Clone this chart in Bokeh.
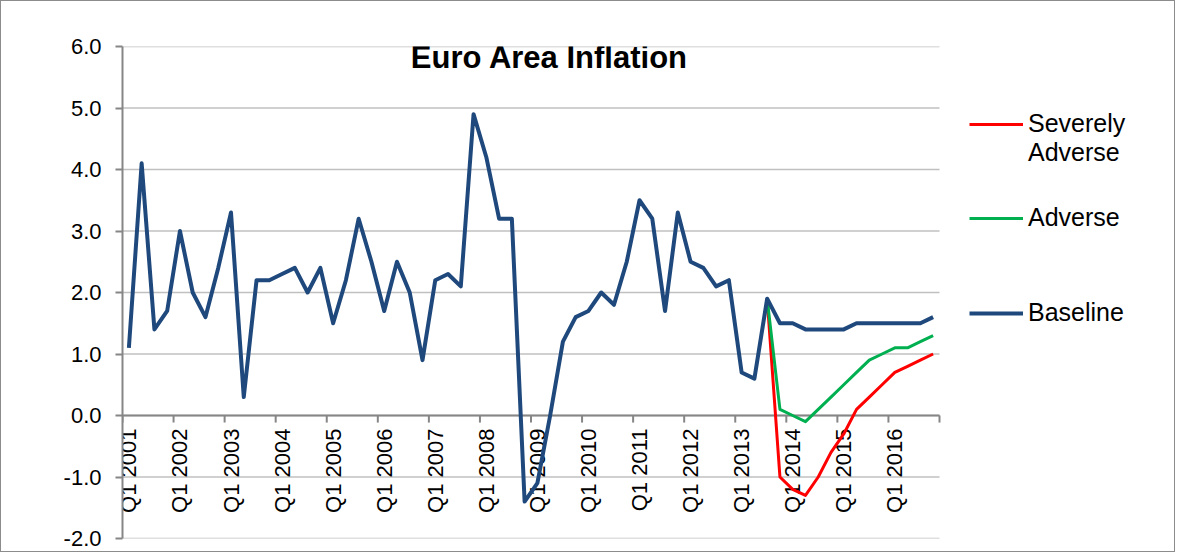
import numpy as np
from bokeh.plotting import figure
from bokeh.models import (Range1d, Legend, LegendItem, Label, FixedTicker,
                          NumeralTickFormatter)
from bokeh.core.properties import value
from bokeh.embed import file_html
from bokeh.resources import INLINE

# ---------------- data ----------------
quarter_labels = ["Q1 2001", "Q1 2002", "Q1 2003", "Q1 2004", "Q1 2005", "Q1 2006",
                  "Q1 2007", "Q1 2008", "Q1 2009", "Q1 2010", "Q1 2011", "Q1 2012",
                  "Q1 2013", "Q1 2014", "Q1 2015", "Q1 2016"]

baseline = [1.1, 4.1, 1.4, 1.7, 3.0, 2.0, 1.6, 2.4,
            3.3, 0.3, 2.2, 2.2, 2.3, 2.4, 2.0, 2.4,
            1.5, 2.2, 3.2, 2.5, 1.7, 2.5, 2.0, 0.9,
            2.2, 2.3, 2.1, 4.9, 4.2, 3.2, 3.2, -1.4,
            -1.1, 0.0, 1.2, 1.6, 1.7, 2.0, 1.8, 2.5,
            3.5, 3.2, 1.7, 3.3, 2.5, 2.4, 2.1, 2.2,
            0.7, 0.6, 1.9, 1.5, 1.5, 1.4, 1.4, 1.4,
            1.4, 1.5, 1.5, 1.5, 1.5, 1.5, 1.5, 1.6]

scenario_start = 50  # Q3 2013, the last common point
severely_adverse = [1.9, -1.0, -1.2, -1.3, -1.0, -0.6, -0.3, 0.1,
                    0.3, 0.5, 0.7, 0.8, 0.9, 1.0]
adverse = [1.9, 0.1, 0.0, -0.1, 0.1, 0.3, 0.5, 0.7,
           0.9, 1.0, 1.1, 1.1, 1.2, 1.3]

y_ticks = [-2, -1, 0, 1, 2, 3, 4, 5, 6]

# ---------------- styles / layout ----------------
FONT = "Liberation Sans"
BLUE = "#1F497D"
RED = "#FF0000"
GREEN = "#00B050"
AXIS_GRAY = "#868686"
GRID_GRAY = "#C0C0C0"

W, H = 1175, 552
BORDER_L, BORDER_T, BORDER_R, BORDER_B = 121, 45, 2, 15
DATA_PX = 817          # pixel width taken by the 64 quarters
n = len(baseline)
frame_px = W - BORDER_L - BORDER_R
x_end = -0.5 + frame_px * n / DATA_PX   # room on the right for the legend

x_all = list(range(n))
x_scen = list(range(scenario_start, scenario_start + len(adverse)))
label_x = list(range(0, n, 4))
tick_x = [i - 0.5 for i in range(0, n + 1, 4)]

p = figure(width=W, height=H, output_backend="svg", toolbar_location=None,
           x_range=Range1d(-0.5, x_end), y_range=Range1d(-2, 6),
           x_axis_location=None,
           min_border_left=BORDER_L, min_border_top=BORDER_T,
           min_border_right=BORDER_R, min_border_bottom=BORDER_B)
p.styles = {"border": "1px solid #8c8c8c"}
p.outline_line_color = None
p.background_fill_color = "white"
p.border_fill_color = "white"
p.xgrid.visible = False
p.ygrid.visible = False

ax = p.yaxis[0]
ax.ticker = FixedTicker(ticks=y_ticks)
ax.formatter = NumeralTickFormatter(format="0.0")
ax.axis_line_color = AXIS_GRAY
ax.axis_line_width = 2
ax.major_tick_line_color = AXIS_GRAY
ax.major_tick_line_width = 2
ax.major_tick_out = 7
ax.major_tick_in = 0
ax.minor_tick_line_color = None
ax.major_label_text_font = FONT
ax.major_label_text_font_size = "22px"
ax.major_label_text_color = "black"
ax.major_label_standoff = 14

# horizontal gridlines limited to the data area
p.segment(x0=[-0.5] * len(y_ticks), x1=[n - 0.5] * len(y_ticks), y0=y_ticks, y1=y_ticks,
          line_color=GRID_GRAY, line_width=1.5)

# x axis crossing at zero
p.segment(x0=[-0.5], x1=[n - 0.5], y0=[0], y1=[0], line_color=AXIS_GRAY, line_width=2)
p.segment(x0=tick_x, y0=[0] * len(tick_x), x1=tick_x, y1=[-0.115] * len(tick_x),
          line_color=AXIS_GRAY, line_width=2)
p.text(x=label_x, y=[0] * len(label_x), text=quarter_labels, angle=np.pi / 2,
       text_align="right", text_baseline="middle", y_offset=13,
       text_font=value(FONT), text_font_size="22px", text_color="black")

r_sev = p.line(x_scen, severely_adverse, line_color=RED, line_width=3, line_join="round")
r_adv = p.line(x_scen, adverse, line_color=GREEN, line_width=3, line_join="round")
r_base = p.line(x_all, baseline, line_color=BLUE, line_width=4, line_join="round")

legend_style = dict(glyph_width=54, glyph_height=20, label_standoff=5, padding=0,
                    margin=0, border_line_color=None, background_fill_alpha=0,
                    label_text_font=FONT, label_text_font_size="25px",
                    label_text_color="black")
p.add_layout(Legend(items=[LegendItem(label="\nSeverely\nAdverse", renderers=[r_sev])],
                    location=(847, 371), **legend_style))
p.add_layout(Legend(items=[LegendItem(label="Adverse", renderers=[r_adv])],
                    location=(847, 306), **legend_style))
p.add_layout(Legend(items=[LegendItem(label="Baseline", renderers=[r_base])],
                    location=(847, 211), **legend_style))

p.add_layout(Label(x=427, y=481, x_units="screen", y_units="screen",
                   text="Euro Area Inflation", text_align="center",
                   text_baseline="alphabetic", text_font=FONT,
                   text_font_size="31px", text_font_style="bold",
                   text_color="black"))

open("out.html", "w").write(file_html(p, INLINE))
